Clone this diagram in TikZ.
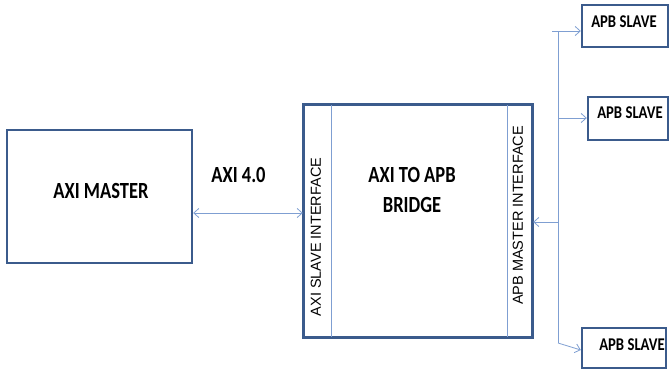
\documentclass[tikz,border=0pt]{standalone}
\usepackage{fontspec}
\setmainfont{Carlito}
\newfontfamily\arialf{Liberation Sans}
\usetikzlibrary{arrows.meta}
\definecolor{boxblue}{HTML}{3B5B8C}
\definecolor{linkblue}{HTML}{7F9FD2}
\tikzset{
  blk/.style={draw=boxblue, line width=2.4pt, minimum width=#1, inner sep=0pt, fill=white},
  lbl/.style={font=\bfseries, inner sep=0pt},
  vlbl/.style={font=\arialf\fontsize{14.5}{16}\selectfont, rotate=90, inner sep=0pt},
  link/.style={draw=linkblue, line width=0.8pt},
  tip/.style={-{Straight Barb[length=5pt,width=9pt,line width=0.8pt]}},
}
\newcommand{\bigtxt}[1]{\scalebox{1}[1.25]{\fontsize{18.5}{20}\selectfont #1}}
\newcommand{\smtxt}[1]{\scalebox{1}[1.22]{\fontsize{14.7}{16}\selectfont #1}}
\begin{document}
\begin{tikzpicture}[x=1pt,y=-1pt]
\useasboundingbox (0,0) rectangle (670,372);
% boxes
\node[blk=185pt, minimum height=133pt] (master) at (99.5,196.5) {};
\node[blk=228pt, minimum height=232pt] (bridge) at (418,221) {};
\node[blk=86pt, minimum height=42pt] (s1) at (625,26) {};
\node[blk=80pt, minimum height=43pt] (s2) at (628,118.5) {};
\node[blk=84pt, minimum height=40pt] (s3) at (624,348) {};
% inner divider lines of bridge
\coordinate (dl) at (331,0);
\coordinate (dr) at (507,0);
\draw[link] (bridge.north -| dl) -- (bridge.south -| dl);
\draw[link] (bridge.north -| dr) -- (bridge.south -| dr);
\draw[boxblue, line width=2.4pt] (bridge.north west) rectangle (bridge.south east);
% texts
\node[lbl] (tmaster) at (101,191) {\bigtxt{AXI MASTER}};
\node[lbl] (taxi) at (238.5,175) {\bigtxt{AXI 4.0}};
\node[lbl] (tb1) at (412,175) {\bigtxt{AXI TO APB}};
\node[lbl] (tb2) at (412,205) {\bigtxt{BRIDGE}};
\node[vlbl] (tslv) at (316,237) {AXI SLAVE INTERFACE};
\node[vlbl] (tmst) at (518,215.5) {APB MASTER INTERFACE};
\node[lbl] (ts1) at (624,22) {\smtxt{APB SLAVE}};
\node[lbl] (ts2) at (630,113) {\smtxt{APB SLAVE}};
\node[lbl] (ts3) at (632,345) {\smtxt{APB SLAVE}};
% connectors
\draw[link, {Straight Barb[length=5pt,width=9pt,line width=0.8pt]}-{Straight Barb[length=5pt,width=9pt,line width=0.8pt]}]
  (master.east |- 0,213) -- (bridge.west |- 0,213);
\coordinate (bus) at (558,222);
\coordinate (btop) at (552,31);
\coordinate (bbot) at (558,343);
\draw[link, tip] (bus) -- (bridge.east |- bus);
\draw[link] (558,31) -- (bbot);
\draw[link, tip] (btop) -- (s1.west |- btop);
\draw[link, tip] (558,118) -- (s2.west |- 0,118);
\draw[link, tip] (bbot) -- (s3.west |- 0,350);
\end{tikzpicture}
\end{document}
